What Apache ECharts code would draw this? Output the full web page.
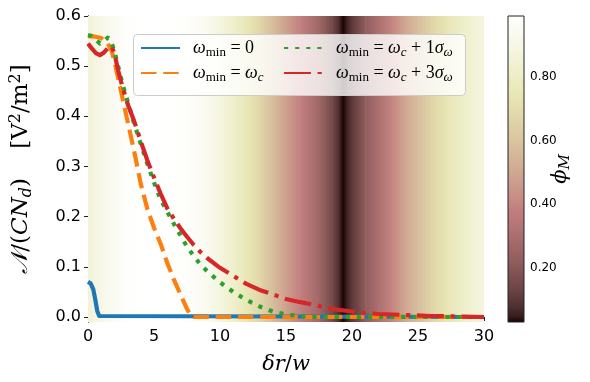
<!DOCTYPE html>
<html>
<head>
<meta charset="utf-8">
<script src="https://cdn.jsdelivr.net/npm/echarts@6/dist/echarts.min.js"></script>
<style>
html, body { margin: 0; padding: 0; background: #fff; }
#main { width: 590px; height: 382px; }
</style>
</head>
<body>
<div id="main"></div>
<script>
// phi_M along delta r / w (background map)
const phiX = [0, 1, 2, 3, 4, 5, 6, 7, 8, 9, 10, 11, 12, 13, 14, 15, 16, 17, 17.5, 18, 18.5, 19, 19.3, 19.6, 20, 20.5, 21, 22, 23, 24, 25, 26, 27, 28, 29, 30]
const phiV = [0.86, 0.91, 0.95, 0.975, 0.985, 0.99, 0.985, 0.975, 0.96, 0.935, 0.88, 0.82, 0.75, 0.67, 0.57, 0.48, 0.39, 0.31, 0.27, 0.21, 0.15, 0.08, 0.031, 0.06, 0.11, 0.16, 0.22, 0.31, 0.40, 0.50, 0.58, 0.66, 0.73, 0.79, 0.84, 0.88]

// curves [delta r / w, N/(C N_d)]
const curveW0 = [[0, 0.07], [0.2, 0.067], [0.4, 0.055], [0.55, 0.035], [0.7, 0.012], [0.85, 0.002], [1, 0], [30, 0]]
const curveWc = [[0, 0.56], [0.5, 0.559], [1, 0.556], [1.5, 0.545], [1.8, 0.53], [2, 0.51], [2.5, 0.45], [3, 0.39], [3.5, 0.33], [4, 0.265], [4.5, 0.215], [5, 0.178], [5.5, 0.146], [6, 0.108], [6.5, 0.075], [7, 0.045], [7.5, 0.016], [7.8, 0.002], [8, 0], [30, 0]]
const curveWc1 = [[0, 0.562], [0.3, 0.56], [0.6, 0.553], [0.9, 0.545], [1.2, 0.55], [1.5, 0.557], [1.7, 0.553], [2, 0.53], [2.3, 0.498], [2.6, 0.465], [3, 0.43], [3.5, 0.385], [4, 0.345], [4.5, 0.305], [5, 0.268], [5.5, 0.234], [6, 0.21], [6.5, 0.186], [7, 0.163], [7.5, 0.14], [8, 0.122], [8.5, 0.105], [9, 0.092], [10, 0.069], [11, 0.05], [12, 0.034], [13, 0.021], [14, 0.011], [15, 0.005], [16, 0.002], [17, 0], [30, 0]]
const curveWc3 = [[0, 0.545], [0.3, 0.535], [0.6, 0.526], [0.9, 0.522], [1.2, 0.527], [1.5, 0.536], [1.8, 0.54], [2, 0.525], [2.3, 0.49], [2.6, 0.46], [3, 0.425], [3.5, 0.39], [4, 0.35], [4.5, 0.312], [5, 0.278], [5.5, 0.246], [6, 0.217], [6.5, 0.196], [7, 0.177], [7.5, 0.16], [8, 0.144], [8.5, 0.13], [9, 0.118], [10, 0.098], [11, 0.082], [12, 0.066], [13, 0.054], [14, 0.045], [15, 0.036], [16, 0.03], [17, 0.025], [18, 0.019], [19, 0.014], [20, 0.011], [21, 0.008], [22, 0.006], [24, 0.004], [26, 0.002], [28, 0.001], [30, 0]]

const xTicks = [0, 5, 10, 15, 20, 25, 30]
const yTicks = [0, 0.1, 0.2, 0.3, 0.4, 0.5, 0.6]
const cbTicks = [0.2, 0.4, 0.6, 0.8]

const Y_MIN = -0.01
const Y_MAX = 0.6
const PHI_MIN = Math.min(...phiV)
const PHI_MAX = Math.max(...phiV)

// matplotlib 'pink' colormap
const pinkStops = [
    [0, '#1e0000'], [0.02, '#361d1d'], [0.05, '#4d2f2f'], [0.1, '#694242'],
    [0.2, '#915d5d'], [0.3, '#b07272'], [0.365, '#c27e7e'], [0.4, '#c68b84'],
    [0.5, '#d0ab93'], [0.6, '#dac6a1'], [0.7, '#e4deae'], [0.746, '#e8e8b4'],
    [0.8, '#ededc6'], [0.9, '#f6f6e4'], [1, '#ffffff'],
]

const hexRgb = h => [1, 3, 5].map(i => parseInt(h.slice(i, i + 2), 16))

const pinkAt = phi => {
    const t = Math.max(0, Math.min(1, (phi - PHI_MIN) / (PHI_MAX - PHI_MIN)))
    for (let i = 1; i < pinkStops.length; i++) {
        if (t <= pinkStops[i][0]) {
            const [t0, c0] = pinkStops[i - 1]
            const [t1, c1] = pinkStops[i]
            const f = (t - t0) / (t1 - t0)
            const a = hexRgb(c0)
            const b = hexRgb(c1)
            const c = a.map((v, k) => Math.round(v + (b[k] - v) * f))
            return `rgb(${c.join(',')})`
        }
    }
    return '#ffffff'
}

const bgItems = phiX.slice(0, -1).map((x, i) => [x, phiX[i + 1], phiV[i], phiV[i + 1]])

const mathRich = (size, family = 'Liberation Serif') => ({
    n: { fontFamily: family, fontSize: size, lineHeight: size + 4, color: '#000' },
    i: { fontFamily: family, fontStyle: 'italic', fontSize: size, lineHeight: size + 4, color: '#000' },
    s: { fontFamily: family, fontSize: Math.round(size * 0.7), lineHeight: 12, verticalAlign: 'bottom', color: '#000' },
    si: { fontFamily: family, fontStyle: 'italic', fontSize: Math.round(size * 0.7), lineHeight: 12, verticalAlign: 'bottom', color: '#000' },
    p: { fontFamily: family, fontSize: Math.round(size * 0.7), lineHeight: 12, verticalAlign: 'top', color: '#000' },
})

const legendLabels = {
    w0: '{i|ω}{s|min}{n| = 0}',
    wc: '{i|ω}{s|min}{n| = }{i|ω}{si|c}',
    wc1: '{i|ω}{s|min}{n| = }{i|ω}{si|c}{n| + 1}{i|σ}{si|ω}',
    wc3: '{i|ω}{s|min}{n| = }{i|ω}{si|c}{n| + 3}{i|σ}{si|ω}',
}

const lineSeries = (name, data, color, dash) => ({
    name,
    type: 'line',
    data,
    symbol: 'none',
    z: 2,
    lineStyle: { color, width: 4.2, type: dash, cap: 'butt', join: 'round' },
    itemStyle: { color },
    emphasis: { disabled: true },
    animation: false,
})

const legendBase = {
    orient: 'vertical',
    top: 39,
    padding: 0,
    itemWidth: 39,
    itemHeight: 2,
    itemGap: 5,
    selectedMode: false,
    itemStyle: { opacity: 0 },
    formatter: name => legendLabels[name],
    textStyle: { padding: [0, 0, 0, 8], rich: mathRich(18) },
}

const chart = echarts.init(document.getElementById('main'))
chart.setOption({
    animation: false,
    grid: [
        { left: 87.5, right: 106, top: 16, bottom: 60 },
        { left: 508, width: 16, top: 16, bottom: 60 },
    ],
    xAxis: [
        {
            gridIndex: 0, type: 'value', min: 0, max: 30, interval: 5,
            name: '{i|δr}{n|/}{i|w}', nameLocation: 'middle', nameGap: 30,
            nameTextStyle: { rich: mathRich(21, 'DejaVu Serif') },
            axisLine: { lineStyle: { color: '#222', width: 1 } },
            axisTick: { show: true, length: 4, lineStyle: { color: '#222' }, customValues: xTicks },
            axisLabel: { fontFamily: 'DejaVu Sans', fontSize: 16, color: '#000', margin: 7, customValues: xTicks },
            splitLine: { show: false },
        },
        {
            gridIndex: 0, type: 'value', min: 0, max: 30, position: 'top',
            axisLine: { lineStyle: { color: '#222', width: 1 } },
            axisTick: { show: false }, axisLabel: { show: false }, splitLine: { show: false },
        },
        {
            gridIndex: 1, type: 'value', min: 0, max: 1, show: false,
        },
    ],
    yAxis: [
        {
            gridIndex: 0, type: 'value', min: Y_MIN, max: Y_MAX,
            name: '{i|𝒩}{n|/(}{i|CN}{si|d}{n|)    [V}{p|2}{n|/m}{p|2}{n|]}',
            nameLocation: 'middle', nameGap: 53,
            nameTextStyle: { rich: mathRich(23, 'DejaVu Serif') },
            axisLine: { lineStyle: { color: '#222', width: 1 } },
            axisTick: { show: true, length: 4, lineStyle: { color: '#222' }, customValues: yTicks },
            axisLabel: {
                fontFamily: 'DejaVu Sans', fontSize: 16, color: '#000', margin: 7,
                customValues: yTicks, formatter: v => v.toFixed(1),
            },
            splitLine: { show: false },
        },
        {
            gridIndex: 0, type: 'value', min: Y_MIN, max: Y_MAX, position: 'right',
            axisLine: { show: true, lineStyle: { color: '#222', width: 1 } },
            axisTick: { show: false }, axisLabel: { show: false }, splitLine: { show: false },
        },
        {
            gridIndex: 1, type: 'value', min: PHI_MIN, max: PHI_MAX, position: 'right',
            name: '{i|ϕ}{si|M}', nameLocation: 'middle', nameGap: 24, nameRotate: 90,
            nameMoveOverlap: false,
            nameTextStyle: { rich: mathRich(21, 'DejaVu Serif') },
            axisLine: { show: false },
            axisTick: { show: true, length: 4, lineStyle: { color: '#222' }, customValues: cbTicks },
            axisLabel: {
                fontFamily: 'DejaVu Sans', fontSize: 12, color: '#000', margin: 6,
                customValues: cbTicks, formatter: v => v.toFixed(2),
            },
            splitLine: { show: false },
        },
    ],
    legend: [
        Object.assign({}, legendBase, { left: 140, data: ['w0', 'wc'] }),
        Object.assign({}, legendBase, { left: 283, data: ['wc1', 'wc3'] }),
    ],
    graphic: [
        {
            type: 'rect', left: 133, top: 34, z: 3,
            shape: { width: 332, height: 61, r: 4 },
            style: { fill: 'rgba(255,255,255,0.8)', stroke: '#cccccc', lineWidth: 1 },
        },
    ],
    series: [
        {
            type: 'custom',
            xAxisIndex: 0, yAxisIndex: 0,
            z: 1, clip: true, silent: true,
            data: bgItems,
            renderItem: (params, api) => {
                const a = api.coord([api.value(0), Y_MAX])
                const b = api.coord([api.value(1), Y_MIN])
                return {
                    type: 'rect',
                    shape: { x: a[0], y: a[1], width: b[0] - a[0] + 0.6, height: b[1] - a[1] },
                    style: {
                        fill: new echarts.graphic.LinearGradient(0, 0, 1, 0, [
                            { offset: 0, color: pinkAt(api.value(2)) },
                            { offset: 1, color: pinkAt(api.value(3)) },
                        ]),
                    },
                }
            },
        },
        {
            type: 'custom',
            xAxisIndex: 2, yAxisIndex: 2,
            z: 1, silent: true,
            data: [[0, PHI_MIN, 1, PHI_MAX]],
            renderItem: (params, api) => {
                const a = api.coord([api.value(0), api.value(3)])
                const b = api.coord([api.value(2), api.value(1)])
                return {
                    type: 'rect',
                    shape: { x: a[0], y: a[1], width: b[0] - a[0], height: b[1] - a[1] },
                    style: {
                        fill: new echarts.graphic.LinearGradient(0, 1, 0, 0,
                            pinkStops.map(([t, c]) => ({ offset: t, color: c }))),
                        stroke: '#222',
                        lineWidth: 1,
                    },
                }
            },
        },
        lineSeries('w0', curveW0, '#1f77b4', 'solid'),
        lineSeries('wc', curveWc, '#ff7f0e', [15.5, 6.7]),
        lineSeries('wc1', curveWc1, '#2ca02c', [4.2, 6.9]),
        lineSeries('wc3', curveWc3, '#d62728', [26.9, 6.7, 4.2, 6.7]),
    ],
})
</script>
</body>
</html>
